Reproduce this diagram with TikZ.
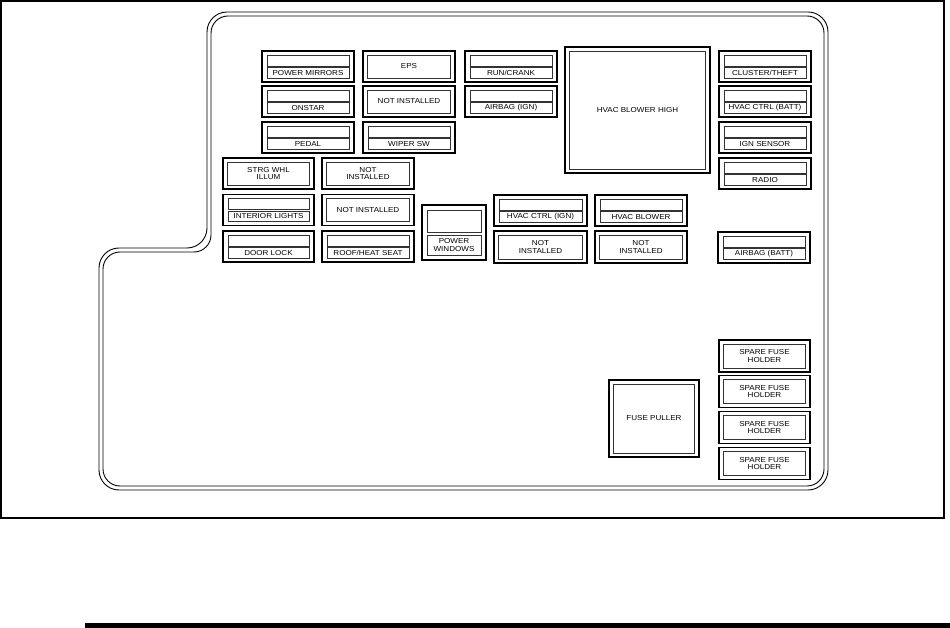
\documentclass[tikz,border=0pt]{standalone}
\usepackage{fontspec}
\newfontfamily\fusefont[FakeStretch=1.12]{Liberation Sans}
\tikzset{
  outerbox/.style={draw=black, line width=1.7pt},
  innerbox/.style={draw=black!80, line width=0.7pt},
  lbl/.style={font=\fusefont\fontsize{7.2}{7.4}\selectfont, align=center, inner sep=0pt, text=black},
  outline/.style={draw=black, line width=0.9pt, rounded corners=20pt},
}
% split fuse: name, x, y, w, label
\newcommand\fsplit[5]{%
  \draw[outerbox] (#2,#3) rectangle ++(#4,31);
  \draw[innerbox] (#2+5,#3+4) rectangle ++(#4-10,11);
  \draw[innerbox] (#2+5,#3+16.5) rectangle ++(#4-10,10.5);
  \node[lbl] (#1) at (#2+#4/2,#3+21.9) {#5};
}
% single fuse: name, x, y, w, h, label
\newcommand\fsingle[6]{%
  \draw[outerbox] (#2,#3) rectangle ++(#4,#5);
  \draw[innerbox] (#2+4.5,#3+4) rectangle ++(#4-9,#5-8);
  \node[lbl] (#1) at (#2+#4/2,#3+#5/2) {#6};
}
\begin{document}
\begin{tikzpicture}[x=1pt,y=-1pt]
\useasboundingbox (0,0) rectangle (950,628);
% frame
\draw[line width=2pt] (1,1) rectangle (944,518);
\fill[black] (85,623) rectangle (950,628);
% housing outline (double line)
\draw[outline] (400,490) -- (99,490) -- (99,248) -- (207,248) -- (207,12) -- (828,12) -- (828,490) -- cycle;
\draw[outline, rounded corners=17pt] (400,486) -- (103,486) -- (103,252) -- (211,252) -- (211,16) -- (824,16) -- (824,486) -- cycle;

% column A
\fsplit{pm}{262}{51}{92}{POWER MIRRORS}
\fsplit{onstar}{262}{86}{92}{ONSTAR}
\fsplit{pedal}{262}{122}{92}{PEDAL}
% column B
\fsingle{eps}{363}{51}{92}{31}{EPS}
\fsingle{ni1}{363}{86}{92}{31}{NOT INSTALLED}
\fsplit{wiper}{363}{122}{92}{WIPER SW}
% column C
\fsplit{run}{465}{51}{92}{RUN/CRANK}
\fsplit{airign}{465}{86}{92}{AIRBAG (IGN)}
% big relay
\fsingle{hvachigh}{565}{47}{145}{126}{HVAC BLOWER HIGH}
% right column
\fsplit{cluster}{719}{51}{92}{CLUSTER/THEFT}
\fsplit{hvacbatt}{719}{86}{92}{HVAC CTRL (BATT)}
\fsplit{ign}{719}{122}{92}{IGN SENSOR}
\fsplit{radio}{719}{158}{92}{RADIO}
\fsplit{airbatt}{718}{232}{92}{AIRBAG (BATT)}
% left block
\fsingle{strg}{223}{158}{91}{31}{STRG WHL\\ILLUM}
\fsingle{ni2}{322}{158}{92}{31}{NOT\\INSTALLED}
\fsplit{interior}{223}{194.5}{91}{INTERIOR LIGHTS}
\fsingle{ni3}{322}{194.5}{92}{31}{NOT INSTALLED}
\fsplit{door}{223}{231}{91}{DOOR LOCK}
\fsplit{roof}{322}{231}{92}{ROOF/HEAT SEAT}
% power windows
\draw[outerbox] (422,205) rectangle ++(64,55);
\draw[innerbox] (427,210) rectangle ++(54,22);
\draw[innerbox] (427,235) rectangle ++(54,20);
\node[lbl] (pw) at (454,245) {POWER\\WINDOWS};
% middle row
\fsplit{hvacign}{494}{195}{93}{HVAC CTRL (IGN)}
\fsingle{ni4}{494}{231}{93}{32}{NOT\\INSTALLED}
\fsplit{hvacbl}{595}{195}{92}{HVAC BLOWER}
\fsingle{ni5}{595}{231}{92}{32}{NOT\\INSTALLED}
% fuse puller
\fsingle{puller}{609}{380}{90}{77}{FUSE PULLER}
% spares
\fsingle{sp1}{719}{340}{91}{32}{SPARE FUSE\\HOLDER}
\fsingle{sp2}{719}{375.5}{91}{32}{SPARE FUSE\\HOLDER}
\fsingle{sp3}{719}{411.5}{91}{32}{SPARE FUSE\\HOLDER}
\fsingle{sp4}{719}{447.5}{91}{32}{SPARE FUSE\\HOLDER}
\end{tikzpicture}
\end{document}
